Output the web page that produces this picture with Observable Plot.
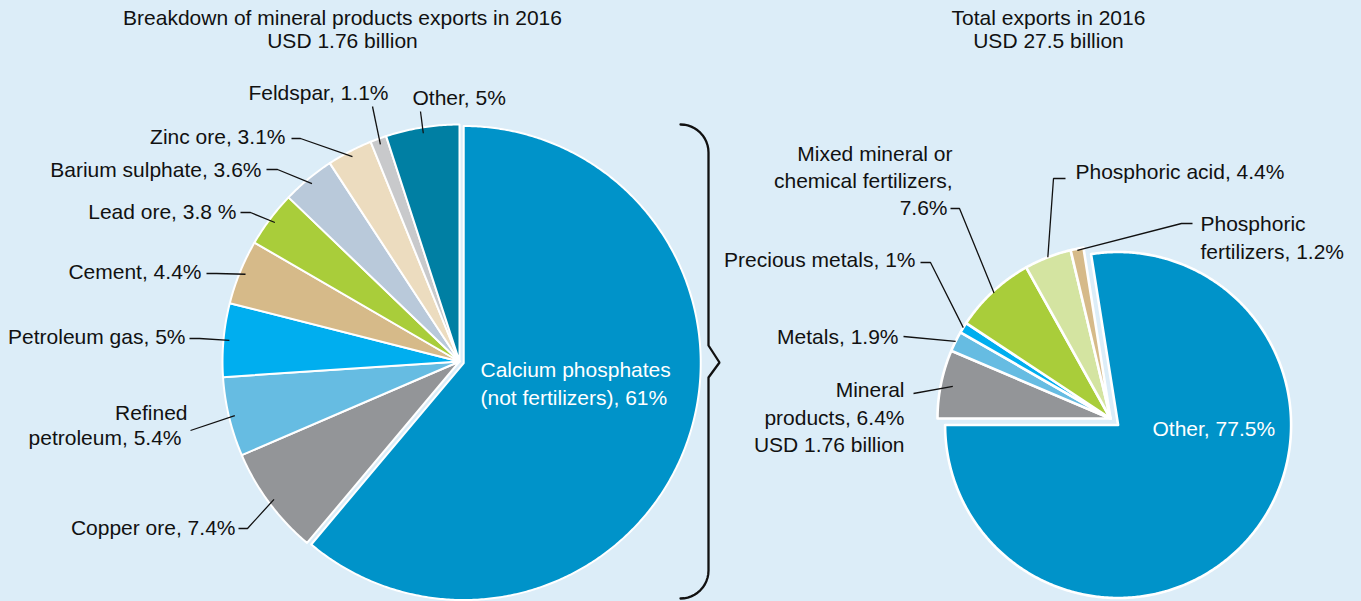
<!DOCTYPE html>
<html><head><meta charset="utf-8">
<script src="https://cdn.jsdelivr.net/npm/d3@7"></script>
<script src="https://cdn.jsdelivr.net/npm/@observablehq/plot@0.6"></script>
<style>html,body{margin:0;padding:0;background:#dcedf8;overflow:hidden;}</style>
</head><body><div id="chart"></div>
<script>
// ---------- DATA ----------
const leftTitle = ["Breakdown of mineral products exports in 2016", "USD 1.76 billion"];
const leftCategories = ["Calcium phosphates (not fertilizers)", "Copper ore", "Refined petroleum", "Petroleum gas", "Cement", "Lead ore", "Barium sulphate", "Zinc ore", "Feldspar", "Other"];
const leftValues = [61, 7.4, 5.4, 5, 4.4, 3.8, 3.6, 3.1, 1.1, 5];
const leftLabels = ["Calcium phosphates\n(not fertilizers), 61%", "Copper ore, 7.4%", "Refined\npetroleum, 5.4%", "Petroleum gas, 5%", "Cement, 4.4%", "Lead ore, 3.8 %", "Barium sulphate, 3.6%", "Zinc ore, 3.1%", "Feldspar, 1.1%", "Other, 5%"];
const leftColors = ["#0093c9", "#939598", "#66bce2", "#00aeef", "#d6ba89", "#a9cd3a", "#b9c9da", "#ecdcbf", "#c8c9cb", "#007fa3"];

const rightTitle = ["Total exports in 2016", "USD 27.5 billion"];
const rightCategories = ["Mineral products", "Metals", "Precious metals", "Mixed mineral or chemical fertilizers", "Phosphoric acid", "Phosphoric fertilizers", "Other"];
const rightValues = [6.4, 1.9, 1, 7.6, 4.4, 1.2, 77.5];
const rightLabels = ["Mineral\nproducts, 6.4%\nUSD 1.76 billion", "Metals, 1.9%", "Precious metals, 1%", "Mixed mineral or\nchemical fertilizers,\n7.6%", "Phosphoric acid, 4.4%", "Phosphoric\nfertilizers, 1.2%", "Other, 77.5%"];
const rightColors = ["#939598", "#66bce2", "#00aeef", "#a9cd3a", "#d4e4a1", "#d6ba89", "#0093c9"];

// ---------- LAYOUT ----------
const W = 1361, H = 601;
const BG = "#dcedf8";
const FONT = "'Liberation Sans', Arial, Helvetica, sans-serif";
const FS = 21;

const leftPie = {cx: 459, cy: 361, r: 237, start: 0, explode: [4.5, 0, 0, 0, 0, 0, 0, 0, 0, 0], stroke: 2, titleX: 342};
const rightPie = {cx: 1110, cy: 418, r: 173, start: -Math.PI / 2, explode: [0, 0, 0, 0, 0, 0, 10], stroke: 2.6, titleX: 1048};

// label layout: x, y (first line), anchor, line height, per-line dx, text colour, leader outer points, leader radius factor
const leftLayout = [
  {x: 480, y: 370, anchor: "start", lh: 28, color: "white"},
  {x: 235, y: 528, anchor: "end", leader: [[238, 528], [247, 528]], rf: 0.975},
  {x: 187, y: 413, anchor: "end", lh: 25, dx: [0, -6], leader: [[190, 430]], rf: 0.975},
  {x: 185, y: 337, anchor: "end", leader: [[189, 338], [199, 338]], rf: 0.975},
  {x: 201, y: 272, anchor: "end", leader: [[206, 273], [216, 273]], rf: 0.975},
  {x: 236, y: 212, anchor: "end", leader: [[240, 212], [250, 212]], rf: 0.975},
  {x: 261, y: 170, anchor: "end", leader: [[266, 169], [277, 169]], rf: 0.975},
  {x: 285, y: 137, anchor: "end", leader: [[291, 138], [300, 138]], rf: 0.975},
  {x: 388, y: 93, anchor: "end", leader: [[372, 106]], rf: 0.975},
  {x: 412, y: 98, anchor: "start", leader: [[420, 111]], rf: 0.975}
];
const rightLayout = [
  {x: 904, y: 390, anchor: "end", lh: 27.5, leader: [[913, 393]], rf: 0.93},
  {x: 898, y: 337, anchor: "end", leader: [[903, 336]], rf: 1.0},
  {x: 915, y: 260, anchor: "end", leader: [[920, 262], [930, 262]], rf: 1.0},
  {x: 952, y: 154, anchor: "end", lh: 27, dx: [0, 0, -5], leader: [[950, 208], [959, 208]], rf: 0.99},
  {x: 1075, y: 172, anchor: "start", leader: [[1065, 178], [1053, 178]], rf: 1.0},
  {x: 1200, y: 224, anchor: "start", lh: 28, leader: [[1192, 223], [1181, 223]], rf: 0.99},
  {x: 1152, y: 429, anchor: "start", color: "white"}
];

// ---------- GEOMETRY ----------
function buildPie(prefix, values, categories, colors, pie) {
  const arcs = d3.pie().sort(null).value(d => d).startAngle(pie.start).endAngle(pie.start + 2 * Math.PI)(values);
  const pts = [];
  const info = arcs.map((a, i) => {
    const mid = (a.startAngle + a.endAngle) / 2;
    const off = pie.explode[i] || 0;
    const ox = pie.cx + off * Math.sin(mid), oy = pie.cy - off * Math.cos(mid);
    const n = Math.max(2, Math.ceil((a.endAngle - a.startAngle) / (Math.PI / 360)));
    const id = prefix + i;
    pts.push({id, x: ox, y: oy, color: colors[i], name: categories[i]});
    for (let k = 0; k <= n; k++) {
      const ang = a.startAngle + (a.endAngle - a.startAngle) * k / n;
      pts.push({id, x: ox + pie.r * Math.sin(ang), y: oy - pie.r * Math.cos(ang), color: colors[i], name: categories[i]});
    }
    pts.push({id, x: ox, y: oy, color: colors[i], name: categories[i]});
    return {mid, ox, oy};
  });
  return {pts, info};
}

function buildLabels(prefix, labels, layout, info, pie) {
  const texts = [], leaders = [];
  labels.forEach((lab, i) => {
    const L = layout[i];
    const lines = lab.split("\n");
    lines.forEach((t, j) => {
      texts.push({text: t, x: L.x + ((L.dx && L.dx[j]) || 0), y: L.y + j * (L.lh || 27), anchor: L.anchor, color: L.color || "#111"});
    });
    if (L.leader) {
      const id = prefix + i;
      L.leader.forEach(([x, y]) => leaders.push({id, x, y}));
      const m = info[i];
      leaders.push({id, x: m.ox + pie.r * L.rf * Math.sin(m.mid), y: m.oy - pie.r * L.rf * Math.cos(m.mid)});
    }
  });
  return {texts, leaders};
}

const LP = buildPie("L", leftValues, leftCategories, leftColors, leftPie);
const RP = buildPie("R", rightValues, rightCategories, rightColors, rightPie);
const LL = buildLabels("L", leftLabels, leftLayout, LP.info, leftPie);
const RL = buildLabels("R", rightLabels, rightLayout, RP.info, rightPie);

const titles = [
  ...leftTitle.map((t, j) => ({text: t, x: leftPie.titleX, y: 18 + j * 23})),
  ...rightTitle.map((t, j) => ({text: t, x: rightPie.titleX, y: 18 + j * 23}))
];

// curly brace spanning the left pie
function brace(pie) {
  const top = pie.cy - pie.r, bot = pie.cy + pie.r;
  const x0 = pie.cx + pie.r - 16, R = 28, xv = x0 + R, tip = 11, half = 16;
  const pts = [];
  for (let k = 0; k <= 12; k++) { const f = k / 12 * Math.PI / 2; pts.push({x: x0 + R * Math.sin(f), y: top + R - R * Math.cos(f)}); }
  pts.push({x: xv, y: pie.cy - half});
  pts.push({x: xv + tip, y: pie.cy + 1});
  pts.push({x: xv, y: pie.cy + half});
  for (let k = 0; k <= 12; k++) { const f = k / 12 * Math.PI / 2; pts.push({x: x0 + R * Math.cos(f), y: bot - R + R * Math.sin(f)}); }
  return pts;
}

const allTexts = [...LL.texts, ...RL.texts];

const chart = Plot.plot({
  width: W, height: H, margin: 0,
  x: {domain: [0, W], range: [0, W], axis: null},
  y: {domain: [0, H], range: [0, H], axis: null},
  color: {type: "identity"},
  style: {background: BG, fontFamily: FONT, overflow: "visible"},
  marks: [
    Plot.line(LP.pts, {x: "x", y: "y", z: "id", fill: "color", stroke: "white", strokeWidth: leftPie.stroke, strokeLinejoin: "round", curve: "linear"}),
    Plot.line(RP.pts, {x: "x", y: "y", z: "id", fill: "color", stroke: "white", strokeWidth: rightPie.stroke, strokeLinejoin: "round", curve: "linear"}),
    Plot.line([...LL.leaders, ...RL.leaders], {x: "x", y: "y", z: "id", stroke: "#111", strokeWidth: 1.3, strokeLinejoin: "miter", strokeLinecap: "butt", curve: "linear"}),
    Plot.line(brace(leftPie), {x: "x", y: "y", stroke: "#111", strokeWidth: 2.3, curve: "linear", strokeLinejoin: "miter"}),
    Plot.text(allTexts.filter(d => d.anchor === "end"), {x: "x", y: "y", text: "text", fill: "color", textAnchor: "end", fontSize: FS, fontFamily: FONT}),
    Plot.text(allTexts.filter(d => d.anchor === "start"), {x: "x", y: "y", text: "text", fill: "color", textAnchor: "start", fontSize: FS, fontFamily: FONT}),
    Plot.text(titles, {x: "x", y: "y", text: "text", fill: "#111", textAnchor: "middle", fontSize: FS, fontFamily: FONT})
  ]
});
document.getElementById("chart").appendChild(chart);
</script>
</body></html>
